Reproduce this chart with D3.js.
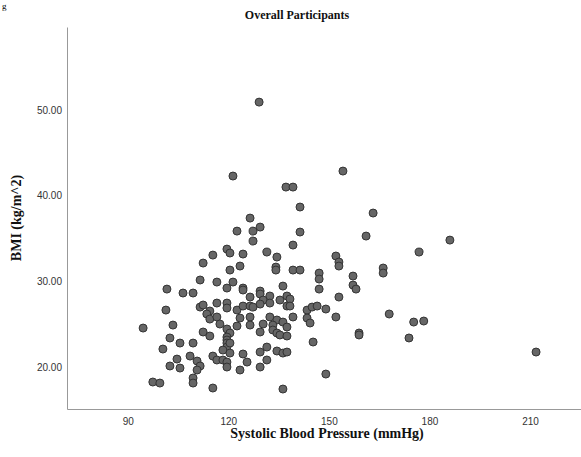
<!DOCTYPE html>
<html>
<head>
<meta charset="utf-8">
<script src="https://cdn.jsdelivr.net/npm/d3@7"></script>
<style>
  body { margin: 0; background: #fff; }
  .tick text { font-family: "Liberation Sans", Arial, sans-serif; font-size: 10px; fill: #333; }
  .title, .axis-title { font-family: "Liberation Serif", "Times New Roman", serif; font-weight: bold; fill: #111; }
  .dot { fill: #666; stroke: #333; stroke-width: 1; }
</style>
</head>
<body>
<svg class="chart" width="581" height="457"></svg>
<script>
// values
const sbp = [
  115.4, 112.5, 111.6, 116.6, 101.7, 106.5, 109.5, 111.6, 112.5, 114.5,
  116.6, 113.6, 114.5, 116.6, 117.5, 101.4, 94.6, 103.5, 102.6, 105.6,
  109.5, 112.5, 114.5, 100.5, 108.6, 110.7, 104.7, 115.4, 116.6, 102.6,
  105.6, 111.6, 110.7, 109.5, 109.5, 115.4, 97.5, 99.6,
  129.2, 121.4, 137.2, 139.3, 141.4, 126.5, 122.6, 127.4, 129.5, 127.4,
  141.4, 139.3, 119.6, 120.5, 124.4, 131.5, 134.5, 123.5, 134.2, 134.2,
  120.5, 139.3, 141.4, 121.4, 119.6, 124.4, 124.4, 136.3, 129.5, 129.5,
  126.5, 132.4, 137.5, 130.4, 135.4, 138.4,
  119.6, 119.6, 122.6, 124.4, 126.5, 127.4, 129.5, 132.4, 137.5, 138.4,
  143.5, 145.0, 146.5, 123.5, 126.5, 132.4, 134.5, 136.3, 139.3, 143.5,
  144.4, 122.6, 126.5, 130.4, 133.3, 133.3, 137.5, 119.6, 120.5, 129.5,
  134.5, 135.4, 137.5, 119.6, 119.6, 119.6, 119.6, 120.5, 118.4, 120.5,
  131.5, 134.5, 136.3, 137.5, 129.5, 124.4, 125.6, 118.4, 119.6, 119.6,
  131.5, 129.5, 123.5, 145.3, 136.3,
  147.1, 147.1, 147.1, 154.2, 163.2, 161.1, 176.9, 152.1, 153.0, 153.0,
  157.2, 166.2, 166.2, 157.2, 158.1, 153.0, 149.1, 152.1, 168.0, 175.3,
  178.3, 159.0, 159.0, 173.9, 149.1, 186.1, 211.8
]
const bmi = [
  33.07, 32.14, 30.16, 29.92, 29.10, 28.64, 28.64, 27.00, 27.24, 26.54,
  27.47, 26.19, 25.60, 25.84, 25.02, 26.65, 24.55, 24.90, 23.39, 22.80,
  22.80, 24.09, 23.62, 22.10, 21.28, 20.70, 20.93, 21.28, 20.82, 20.12,
  19.88, 20.12, 19.65, 18.72, 18.13, 17.55, 18.25, 18.13,
  50.93, 42.30, 41.01, 41.01, 38.68, 37.39, 35.87, 35.87, 36.34, 34.71,
  35.76, 34.24, 33.77, 33.31, 33.19, 33.42, 32.84, 31.79, 31.67, 31.32,
  31.32, 31.32, 31.32, 29.92, 29.22, 29.22, 28.99, 29.45, 28.87, 28.52,
  28.17, 28.29, 28.29, 27.82, 27.82, 27.94,
  27.47, 26.89, 26.65, 27.12, 27.12, 27.00, 27.35, 27.47, 27.12, 27.12,
  26.65, 27.00, 27.12, 25.72, 25.84, 25.84, 25.49, 25.25, 25.84, 25.72,
  25.14, 24.79, 24.90, 25.02, 24.90, 24.32, 24.67, 24.44, 23.97, 24.09,
  23.97, 23.74, 23.62, 23.50, 23.15, 22.80, 22.33, 22.80, 21.98, 21.63,
  22.33, 21.87, 21.63, 21.75, 21.75, 21.52, 20.58, 20.82, 20.58, 20.00,
  20.82, 20.00, 19.65, 22.92, 17.43,
  30.97, 30.27, 29.10, 42.88, 37.98, 35.29, 33.42, 32.96, 32.26, 31.79,
  30.62, 31.56, 30.97, 29.57, 29.10, 28.17, 26.77, 25.84, 26.19, 25.25,
  25.37, 23.97, 23.74, 23.39, 19.18, 34.82, 21.75
]
const xTicks = [90, 120, 150, 180, 210]
const yTicks = [20, 30, 40, 50]

const points = sbp.map((v, i) => ({ x: v, y: bmi[i] }))

const svg = d3.select("svg.chart")
const x = d3.scaleLinear().domain([71.9, 225.2]).range([67, 581])
const y = d3.scaleLinear().domain([15.1, 59.7]).range([409, 27])

// small leftover glyph from the caption above the figure
svg.append("text")
  .attr("x", 2)
  .attr("y", 9)
  .attr("font-family", "Liberation Serif, serif")
  .attr("font-size", 9)
  .text("g")

svg.append("text")
  .attr("class", "title")
  .attr("x", 297)
  .attr("y", 19)
  .attr("text-anchor", "middle")
  .attr("font-size", 12)
  .text("Overall Participants")

// axes, no tick marks
const xAxis = svg.append("g")
  .attr("transform", "translate(0,409)")
  .call(d3.axisBottom(x).tickValues(xTicks).tickSize(0).tickPadding(9))
xAxis.select(".domain").attr("stroke", "#999")

const yAxis = svg.append("g")
  .attr("transform", "translate(67,0)")
  .call(d3.axisLeft(y).tickValues(yTicks).tickFormat(d3.format(".2f")).tickSize(0).tickPadding(5))
yAxis.select(".domain").attr("stroke", "#999")

svg.append("text")
  .attr("class", "axis-title")
  .attr("x", 327)
  .attr("y", 438)
  .attr("text-anchor", "middle")
  .attr("font-size", 14)
  .text("Systolic Blood Pressure (mmHg)")

svg.append("text")
  .attr("class", "axis-title")
  .attr("transform", "translate(21,218) rotate(-90)")
  .attr("text-anchor", "middle")
  .attr("font-size", 14)
  .text("BMI (kg/m^2)")

svg.append("g")
  .selectAll("circle")
  .data(points)
  .enter()
  .append("circle")
  .attr("class", "dot")
  .attr("cx", d => x(d.x))
  .attr("cy", d => y(d.y))
  .attr("r", 4)
</script>
</body>
</html>
